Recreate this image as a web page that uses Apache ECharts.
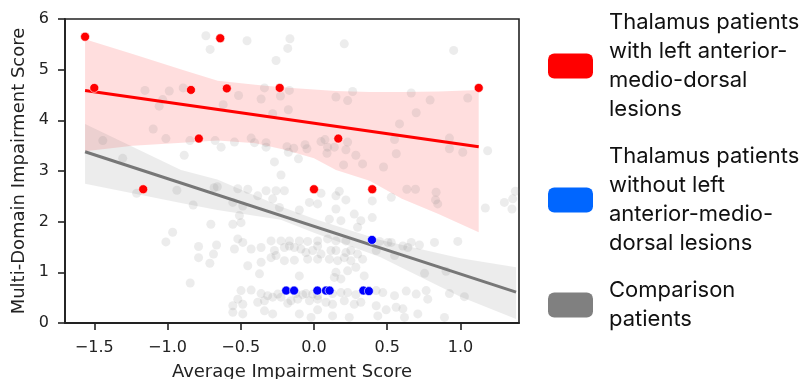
<!DOCTYPE html>
<html>
<head>
<meta charset="utf-8">
<script src="https://cdn.jsdelivr.net/npm/echarts@6/dist/echarts.min.js"></script>
<style>html,body{margin:0;padding:0;background:#fff;}#c{width:807px;height:379px;}</style>
</head>
<body>
<div id="c"></div>
<script>
// ---- data ----
const xTicks = [-1.5, -1.0, -0.5, 0.0, 0.5, 1.0];
const yTicks = [0, 1, 2, 3, 4, 5, 6];

const seriesNames = [
  "Thalamus patients\nwith left anterior-\nmedio-dorsal\nlesions",
  "Thalamus patients\nwithout left\nanterior-medio-\ndorsal lesions",
  "Comparison\npatients"
];

const redPoints = [
  [-1.563, 5.65], [-1.50, 4.64], [-0.84, 4.60], [-0.64, 5.62], [-0.595, 4.63],
  [-0.786, 3.64], [-1.166, 2.64], [-0.234, 4.64], [0.166, 3.64], [1.125, 4.64],
  [0.0, 2.64], [0.398, 2.64]
];

const bluePoints = [
  [0.396, 1.64], [-0.19, 0.64], [-0.136, 0.64], [0.023, 0.64], [0.082, 0.64],
  [0.107, 0.64], [0.337, 0.64], [0.375, 0.63]
];

const comparisonPoints = [
  // upper left
  [-0.738, 5.67], [-0.709, 5.40], [-1.154, 4.59], [-0.988, 4.58], [-0.893, 4.64],
  [-1.033, 4.41], [-1.057, 4.28], [-1.098, 3.83], [-1.011, 3.64], [-1.442, 3.60],
  [-0.847, 3.60], [-0.675, 3.60], [-0.886, 3.31], [-1.306, 3.25],
  // upper middle
  [-0.457, 5.57], [-0.164, 5.61], [-0.179, 5.42], [0.207, 5.51], [-0.259, 5.18],
  [-0.338, 4.64], [-0.168, 4.59], [-0.515, 4.49], [-0.361, 4.42], [-0.229, 4.48],
  [-0.620, 4.31], [-0.175, 4.21], [-0.282, 4.13], [0.150, 4.46], [0.230, 4.39],
  [0.264, 4.57], [-0.429, 3.65], [-0.543, 3.57], [-0.406, 3.56], [-0.327, 3.56],
  [-0.634, 3.47], [-0.327, 3.47], [-0.184, 3.48], [-0.138, 3.45], [-0.175, 3.37],
  [-0.061, 3.52], [-0.048, 3.44], [0.048, 3.58], [0.075, 3.62], [0.093, 3.47],
  [0.089, 3.35], [0.139, 3.47], [0.230, 3.57], [0.218, 3.42], [0.286, 3.31],
  [0.202, 3.12], [0.332, 3.14], [-0.106, 3.24], [-0.270, 3.18],
  // upper right
  [0.954, 5.38], [0.664, 4.54], [0.793, 4.40], [1.050, 4.44], [0.698, 4.15],
  [0.584, 3.93], [0.550, 3.62], [0.925, 3.65], [0.925, 3.44], [1.016, 3.37],
  [1.186, 3.40], [0.562, 3.34], [0.475, 3.08],
  // lower left
  [-1.211, 2.56], [-0.936, 2.62], [-0.682, 2.67], [-0.66, 2.69], [-0.825, 2.33],
  [-0.704, 1.95], [-0.965, 1.79], [-1.011, 1.60], [-0.788, 1.51], [-0.788, 1.29],
  [-0.686, 1.36], [-0.711, 1.18], [-0.665, 1.54], [-0.845, 0.79],
  // lower middle
  [-0.225, 2.92], [-0.452, 2.64], [-0.520, 2.65], [-0.327, 2.61], [-0.259, 2.61],
  [-0.202, 2.61], [-0.384, 2.51], [-0.282, 2.45], [-0.554, 2.38], [-0.486, 2.31],
  [-0.509, 2.12], [-0.554, 1.95], [-0.498, 1.98], [-0.236, 2.28], [-0.100, 2.23],
  [-0.031, 2.38], [0.025, 2.35], [0.048, 2.56], [0.150, 2.51], [0.173, 2.60],
  [0.218, 2.43], [0.105, 2.05], [0.184, 2.02], [0.150, 2.25], [0.275, 2.15],
  [0.320, 2.02], [0.298, 1.89],
  [-0.520, 1.66], [-0.486, 1.59], [-0.429, 1.46], [-0.361, 1.49], [-0.293, 1.62],
  [-0.225, 1.62], [-0.168, 1.62], [-0.100, 1.62], [-0.043, 1.61], [0.025, 1.62],
  [0.093, 1.66], [0.150, 1.62], [0.218, 1.62],
  [-0.543, 1.46], [-0.270, 1.43], [-0.259, 1.33], [-0.202, 1.49], [-0.168, 1.52],
  [-0.134, 1.49], [-0.089, 1.46], [-0.055, 1.39], [-0.009, 1.43], [0.025, 1.52],
  [0.048, 1.36], [0.116, 1.43], [0.150, 1.43], [0.218, 1.39], [0.252, 1.43],
  [0.298, 1.36],
  [-0.452, 1.13], [-0.361, 1.20], [-0.293, 1.29], [-0.202, 1.23], [-0.134, 1.24],
  [-0.043, 1.26], [0.025, 1.26], [0.105, 1.26], [0.162, 1.23], [0.207, 1.29],
  [0.252, 1.23], [0.332, 1.26],
  [-0.372, 0.97], [-0.100, 0.93], [0.150, 1.00], [0.230, 1.03], [0.286, 1.10],
  [0.139, 0.90], [0.184, 0.87], [0.343, 0.93],
  [-0.498, 0.64], [-0.429, 0.65], [-0.361, 0.58], [-0.316, 0.54], [-0.282, 0.51],
  [-0.247, 0.57], [-0.123, 0.58], [-0.077, 0.56], [-0.055, 0.58], [-0.009, 0.57],
  [0.025, 0.54], [0.127, 0.58], [0.184, 0.60], [0.230, 0.60], [0.286, 0.56],
  [-0.520, 0.47], [-0.554, 0.34], [-0.486, 0.37], [-0.384, 0.41], [-0.338, 0.44],
  [-0.225, 0.51], [-0.179, 0.39], [-0.157, 0.44], [-0.111, 0.47], [-0.031, 0.44],
  [0.025, 0.47], [0.082, 0.41], [0.127, 0.37], [0.207, 0.44], [0.275, 0.37],
  [0.320, 0.41],
  [-0.554, 0.21], [-0.486, 0.18], [-0.338, 0.24], [-0.282, 0.18], [-0.100, 0.18],
  [-0.020, 0.11], [0.025, 0.26], [0.127, 0.14], [0.241, 0.11],
  // lower right
  [0.398, 2.41], [0.398, 2.08], [0.528, 2.48], [0.634, 2.64], [0.693, 2.64],
  [0.834, 2.58], [0.830, 2.43], [0.845, 2.35], [1.170, 2.27], [1.300, 2.38],
  [1.357, 2.45], [1.352, 2.25], [1.375, 2.60],
  [0.448, 1.61], [0.505, 1.59], [0.528, 1.59], [0.607, 1.52], [0.641, 1.49],
  [0.664, 1.59], [0.720, 1.54], [0.823, 1.59], [0.982, 1.61], [0.425, 1.43],
  [0.550, 1.33], [0.755, 0.98], [0.902, 1.02],
  [0.425, 0.64], [0.470, 0.60], [0.550, 0.54], [0.630, 0.63], [0.698, 0.57],
  [0.766, 0.64], [0.777, 0.47], [0.925, 0.58], [1.027, 0.52],
  [0.425, 0.34], [0.493, 0.26], [0.561, 0.31], [0.607, 0.28], [0.709, 0.18],
  [0.891, 0.11], [0.618, 0.11], [0.436, 0.14]
];

// regression lines (endpoints)
const redFit = [[-1.563, 4.59], [1.125, 3.48]];
const greyFit = [[-1.563, 3.38], [1.38, 0.61]];

// confidence bands
const redBandX  = [-1.563, -1.238, -0.9, -0.657, -0.4, -0.2, 0.0, 0.15, 0.38, 0.6, 0.85, 1.125];
const redBandHi = [5.60, 5.31, 5.00, 4.78, 4.70, 4.65, 4.61, 4.58, 4.56, 4.56, 4.57, 4.60];
const redBandLo = [3.39, 3.50, 3.56, 3.60, 3.55, 3.42, 3.25, 3.02, 2.81, 2.45, 2.15, 1.79];

const greyBandX  = [-1.563, -0.908, -0.66, -0.227, 0.0, 0.455, 1.0, 1.38];
const greyBandHi = [3.93, 3.02, 2.83, 2.30, 2.06, 1.64, 1.28, 1.10];
const greyBandLo = [2.75, 2.37, 2.23, 2.04, 1.78, 1.30, 0.52, 0.08];

// ---- chart ----
function band(xs, lo, hi, fill) {
  return {
    type: 'custom', silent: true, z: 1,
    data: [[xs[0], lo[0]]],
    renderItem: function (params, api) {
      const pts = [];
      for (let i = 0; i < xs.length; i++) pts.push(api.coord([xs[i], hi[i]]));
      for (let i = xs.length - 1; i >= 0; i--) pts.push(api.coord([xs[i], lo[i]]));
      return { type: 'polygon', shape: { points: pts }, style: { fill: fill } };
    }
  };
}

const minus = s => String(s).replace('-', '\u2212');
const axisFont = { fontFamily: 'DejaVu Sans', color: '#222' };

const chart = echarts.init(document.getElementById('c'), null, { renderer: 'canvas' });
chart.setOption({
  animation: false,
  backgroundColor: '#fff',
  grid: {
    left: 65, right: 288, top: 19, bottom: 56,
    outerBoundsMode: 'none', containLabel: false,
    show: true, borderColor: '#222', borderWidth: 1.6, backgroundColor: 'transparent'
  },
  xAxis: {
    type: 'value', min: -1.7, max: 1.4,
    name: 'Average Impairment Score', nameLocation: 'middle', nameGap: 40,
    nameTextStyle: Object.assign({ fontSize: 18 }, axisFont),
    axisLine: { show: true, onZero: false, lineStyle: { color: '#222', width: 1.8 } },
    axisTick: { show: true, length: 7, lineStyle: { color: '#222', width: 1.6 }, customValues: xTicks },
    axisLabel: { fontSize: 16, margin: 17, customValues: xTicks, formatter: v => minus(v.toFixed(1)), ...axisFont },
    splitLine: { show: false }
  },
  yAxis: {
    type: 'value', min: 0, max: 6, interval: 1,
    name: 'Multi-Domain Impairment Score', nameLocation: 'middle', nameGap: 33,
    nameTextStyle: Object.assign({ fontSize: 18 }, axisFont),
    axisLine: { show: true, onZero: false, lineStyle: { color: '#222', width: 1.8 } },
    axisTick: { show: true, length: 7, lineStyle: { color: '#222', width: 1.6 } },
    axisLabel: { fontSize: 16, margin: 16, formatter: v => String(v), ...axisFont },
    splitLine: { show: false }
  },
  legend: {
    orient: 'vertical', left: 548, top: 8, itemGap: 18, padding: 0,
    icon: 'roundRect', itemWidth: 45, itemHeight: 25,
    selectedMode: false,
    textStyle: { fontFamily: 'Inter', fontSize: 22, lineHeight: 29, color: '#111', padding: [0, 0, 0, 11] },
    data: [
      { name: seriesNames[0], itemStyle: { color: '#ff0000', opacity: 1, borderWidth: 0 } },
      { name: seriesNames[1], itemStyle: { color: '#0066ff', opacity: 1, borderWidth: 0 } },
      { name: seriesNames[2], itemStyle: { color: '#808080', opacity: 1, borderWidth: 0 } }
    ]
  },
  series: [
    band(redBandX, redBandLo, redBandHi, 'rgba(255,0,0,0.13)'),
    band(greyBandX, greyBandLo, greyBandHi, 'rgba(128,128,128,0.15)'),
    {
      name: seriesNames[2], type: 'scatter', z: 2, data: comparisonPoints,
      symbolSize: 9, itemStyle: { color: 'rgba(128,128,128,0.15)', opacity: 1 }, silent: true
    },
    {
      type: 'line', z: 3, data: redFit, symbol: 'none', silent: true,
      lineStyle: { color: '#ff0000', width: 3 }
    },
    {
      type: 'line', z: 3, data: greyFit, symbol: 'none', silent: true,
      lineStyle: { color: '#777777', width: 3 }
    },
    {
      name: seriesNames[0], type: 'scatter', z: 4, data: redPoints, symbolSize: 9,
      itemStyle: { color: '#ff0000', opacity: 1, borderColor: '#fff', borderWidth: 0.6 }, silent: true
    },
    {
      name: seriesNames[1], type: 'scatter', z: 4, data: bluePoints, symbolSize: 9,
      itemStyle: { color: '#0000ff', opacity: 1, borderColor: '#fff', borderWidth: 0.6 }, silent: true
    }
  ]
});
</script>
</body>
</html>
